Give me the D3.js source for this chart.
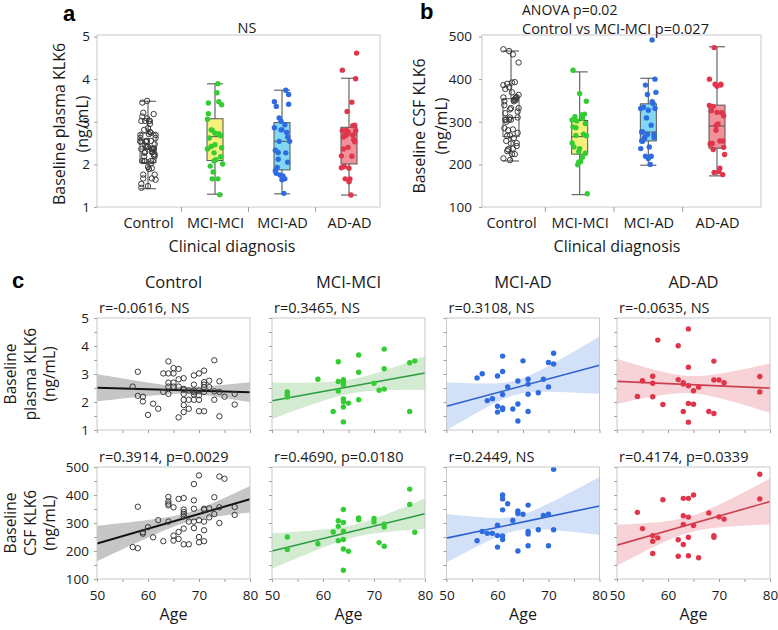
<!DOCTYPE html>
<html>
<head>
<meta charset="utf-8">
<script src="https://cdn.jsdelivr.net/npm/d3@7"></script>
<style>
	body { margin: 0; background: #fff; }
	text { font-family: "Open Sans", sans-serif; fill: #1a1a1a; }
</style>
</head>
<body>
<svg id="svg"></svg>
<script>

// ---------------------------------------------------------------- data --- //

const groups = ["Control", "MCI-MCI", "MCI-AD", "AD-AD"];

// [age, plasma KLK6 ng/mL]
const controlPlasma = [[57,2.55],[58,3.08],[58,2.22],[59,2.19],[59,2.02],[60,1.54],[61,1.94],[62,1.76],[63,3.02],[63,2.36],[64,3.45],[64,3.02],[64,2.69],[64,2.55],[64,2.29],[65,3.21],[65,3.02],[65,2.69],[65,2.55],[66,3.18],[66,2.81],[66,2.55],[66,1.45],[67,2.85],[67,2.47],[67,2.44],[67,2.29],[67,2.08],[67,1.89],[67,1.64],[68,2.41],[68,2.08],[68,1.76],[69,2.95],[69,2.62],[69,2.41],[69,2.35],[69,2.27],[69,2.08],[70,3.02],[70,2.41],[70,2.24],[70,2.08],[70,1.67],[71,3.12],[71,2.71],[71,2.62],[71,2.53],[71,2.36],[71,1.67],[72,2.76],[72,2.53],[73,3.49],[73,2.38],[73,2.08],[74,2.74],[74,2.36],[74,1.49],[75,2.19],[77,2.29],[77,1.91]];
const mciMciPlasma = [[53,2.36],[53,2.27],[53,2.18],[59,2.81],[62,1.66],[63,3.44],[63,2.73],[63,2.39],[64,2.80],[64,2.72],[64,2.62],[64,2.11],[64,2.01],[64,1.82],[64,1.29],[65,1.96],[67,3.68],[67,3.06],[67,2.08],[70,2.67],[71,2.42],[72,3.89],[72,3.19],[72,2.46],[77,3.40],[77,1.66],[78,3.47]];
const mciAdPlasma = [[56,2.86],[57,3.01],[58,2.05],[59,2.12],[60,2.93],[60,1.85],[60,1.64],[61,3.64],[61,3.09],[61,2.27],[61,1.79],[61,1.73],[62,2.54],[63,1.75],[64,2.75],[64,1.93],[64,1.32],[65,3.47],[66,2.81],[66,2.64],[66,2.28],[66,1.66],[68,2.33],[69,2.81],[70,3.41],[70,2.54],[71,3.74],[71,3.36]];
const adAdPlasma = [[54,2.20],[55,2.76],[57,2.92],[57,2.67],[57,2.19],[58,4.21],[59,1.91],[62,4.01],[62,2.80],[63,2.69],[63,2.64],[63,1.66],[64,4.61],[64,3.24],[64,2.58],[64,1.95],[64,1.28],[65,1.92],[65,2.40],[66,2.53],[68,1.66],[69,3.46],[69,2.79],[69,1.59],[70,2.79],[71,2.69],[78,2.91],[78,2.36]];

// [age, CSF KLK6 ng/mL]
const controlCsf = [[57,214],[58,210],[58,358],[59,267],[59,262],[60,285],[61,249],[62,310],[63,235],[64,393],[64,377],[64,369],[64,363],[64,305],[65,356],[65,255],[65,237],[66,386],[66,268],[66,243],[67,389],[67,348],[67,339],[67,332],[67,324],[67,280],[67,224],[68,305],[68,224],[69,439],[69,381],[69,351],[69,305],[69,282],[70,470],[70,310],[70,250],[70,231],[71,351],[71,348],[71,305],[71,274],[71,235],[72,352],[72,320],[73,392],[73,332],[74,466],[74,356],[74,300],[75,458],[77,357],[77,329]];
const mciMciCsf = [[53,250],[53,205],[59,226],[62,268],[63,308],[63,288],[63,237],[64,348],[64,302],[64,271],[64,241],[64,207],[64,131],[65,199],[67,318],[67,312],[70,316],[70,304],[71,230],[72,296],[72,286],[72,217],[77,421],[77,366],[78,267]];
const mciAdCsf = [[56,237],[57,270],[58,263],[59,263],[60,292],[60,255],[60,214],[61,400],[61,386],[61,347],[61,254],[61,241],[62,369],[63,309],[64,343],[64,334],[64,200],[65,331],[66,364],[66,270],[66,261],[66,219],[68,276],[69,327],[70,331],[70,219],[71,492],[71,276]];
const adAdCsf = [[54,338],[55,280],[57,255],[57,235],[57,191],[58,247],[59,383],[62,240],[62,181],[63,388],[63,326],[63,295],[63,223],[64,388],[64,321],[64,249],[64,183],[65,400],[65,291],[66,176],[68,336],[69,255],[69,249],[70,322],[71,314],[78,474],[78,386]];

// box stats: [lower whisker, q1, median, q3, upper whisker]
const plasmaBox = [[1.43,2.04,2.36,2.73,3.48],[1.30,2.09,2.65,3.07,3.89],[1.31,1.87,2.54,2.98,3.74],[1.28,2.01,2.69,2.87,4.02]];
const csfBox = [[208,265,310,354,466],[129,224,265,303,417],[198,255,276,342,402],[173,238,290,339,476]];

const plasmaStats = ["r=-0.0616, NS", "r=0.3465, NS", "r=0.3108, NS", "r=-0.0635, NS"];
const csfStats = ["r=0.3914, p=0.0029", "r=0.4690, p=0.0180", "r=0.2449, NS", "r=0.4174, p=0.0339"];

const plasmaTicks = [1, 2, 3, 4, 5];
const csfTicks = [100, 200, 300, 400, 500];
const ageTicks = [50, 60, 70, 80];

const plasmaData = [controlPlasma, mciMciPlasma, mciAdPlasma, adAdPlasma];
const csfData = [controlCsf, mciMciCsf, mciAdCsf, adAdCsf];

// -------------------------------------------------------------- styles --- //

const dotColor  = ["#333333", "#33cc33", "#2f6be0", "#e0364b"],
	lineColor = ["#111111", "#2a9a40", "#2d62cc", "#c9414e"],
	bandColor = ["#c6c6c6", "#d3ebd0", "#d2e0f8", "#f7d2d6"],
	boxFill   = ["#ffffff", "#f6f07c", "#80d8f4", "#f2909c"],
	frameColor = "#c8c8c8",
	tickColor = "#a0a0a0";

const svg = d3.select("svg#svg")
	.attr("width", 778)
	.attr("height", 630);

const defs = svg.append("defs");
let clipId = 0;

function dot(sel, gi, x, y) {
	sel.attr("cx", x).attr("cy", y).attr("r", 2.7);
	if (gi === 0) sel.attr("fill", "none").attr("stroke", "#3a3a3a").attr("stroke-width", 1);
	else sel.attr("fill", dotColor[gi]);
}

function styleAxis(g, size) {
	g.select(".domain").remove();
	g.selectAll(".tick line").attr("stroke", tickColor);
	g.selectAll(".tick text").attr("font-size", size).attr("fill", "#222");
}

// --------------------------------------------------------- box panels --- //

function boxPanel(o) {

	const g = svg.append("g");

	const y = d3.scaleLinear().domain(o.domain).range([o.bottom, o.top + 1.5]);
	const x = d3.scalePoint().domain(groups).range(o.cx);

	g.append("rect")
		.attr("x", o.left).attr("y", o.top)
		.attr("width", o.right - o.left).attr("height", o.bottom - o.top)
		.attr("fill", "none").attr("stroke", frameColor);

	g.append("g")
		.attr("transform", `translate(${o.left},0)`)
		.call(d3.axisLeft(y).tickValues(o.ticks).tickFormat(d3.format("d")).tickSize(3).tickPadding(o.pad))
		.call(a => styleAxis(a, 13.5));

	g.append("g")
		.attr("transform", `translate(0,${o.bottom})`)
		.call(d3.axisBottom(x).tickSize(0).tickPadding(11))
		.call(a => styleAxis(a, 14.5));

	g.selectAll("line.sep")
		.data(groups.slice(1))
		.enter()
		.append("line")
		.attr("x1", (d, i) => (x(d) + x(groups[i])) / 2)
		.attr("x2", (d, i) => (x(d) + x(groups[i])) / 2)
		.attr("y1", o.bottom).attr("y2", o.bottom + 5)
		.attr("stroke", tickColor);

	const bw = 16;
	groups.forEach((grp, gi) => {
		const s = o.box[gi], cx = x(grp);
		g.append("line")
			.attr("x1", cx).attr("x2", cx)
			.attr("y1", y(s[0])).attr("y2", y(s[4]))
			.attr("stroke", "#666").attr("stroke-width", 1.2);
		[s[0], s[4]].forEach(v => g.append("line")
			.attr("x1", cx - bw / 2).attr("x2", cx + bw / 2)
			.attr("y1", y(v)).attr("y2", y(v))
			.attr("stroke", "#666").attr("stroke-width", 1.2));
		g.append("rect")
			.attr("x", cx - bw / 2).attr("width", bw)
			.attr("y", y(s[3])).attr("height", y(s[1]) - y(s[3]))
			.attr("fill", boxFill[gi]).attr("stroke", "#555");
		g.append("line")
			.attr("x1", cx - bw / 2).attr("x2", cx + bw / 2)
			.attr("y1", y(s[2])).attr("y2", y(s[2]))
			.attr("stroke", "#555");

		g.selectAll(null)
			.data(o.data[gi])
			.enter()
			.append("circle")
			.each(function(d, i) {
				const jit = ((i * 7) % 17 - 8) * 0.95;
				dot(d3.select(this), gi, cx + jit, y(d[1]));
			});
	});

	g.append("text")
		.attr("transform", `translate(${o.titleX[0]},${o.midY}) rotate(-90)`)
		.attr("text-anchor", "middle").attr("font-size", 16)
		.text(o.title);
	g.append("text")
		.attr("transform", `translate(${o.titleX[1]},${o.midY}) rotate(-90)`)
		.attr("text-anchor", "middle").attr("font-size", 16)
		.text("(ng/mL)");
	g.append("text")
		.attr("x", o.xTitleX).attr("y", 252)
		.attr("text-anchor", "middle").attr("font-size", 16)
		.text("Clinical diagnosis");
}

boxPanel({
	left: 97, right: 380, top: 35, bottom: 207,
	domain: [1, 5], ticks: plasmaTicks, pad: 4,
	cx: [148, 349], box: plasmaBox, data: plasmaData,
	title: "Baseline plasma KLK6", titleX: [65, 88], midY: 124, xTitleX: 232
});

boxPanel({
	left: 482, right: 761, top: 35, bottom: 207,
	domain: [100, 500], ticks: csfTicks, pad: 7,
	cx: [511, 717], box: csfBox, data: csfData,
	title: "Baseline CSF KLK6", titleX: [425, 447], midY: 126, xTitleX: 617
});

svg.append("text").attr("x", 247).attr("y", 33)
	.attr("text-anchor", "middle").attr("font-size", 14.5).text("NS");
svg.append("text").attr("x", 522).attr("y", 15)
	.attr("font-size", 14).text("ANOVA p=0.02");
svg.append("text").attr("x", 522).attr("y", 34)
	.attr("font-size", 14.5).text("Control vs MCI-MCI p=0.027");

// ------------------------------------------------------ scatter panels --- //

function fit(pts) {
	const n = pts.length,
		mx = d3.mean(pts, d => d[0]),
		my = d3.mean(pts, d => d[1]);
	let sxx = 0, sxy = 0;
	pts.forEach(d => { sxx += (d[0] - mx) ** 2; sxy += (d[0] - mx) * (d[1] - my); });
	const b = sxy / sxx, a = my - b * mx;
	let sse = 0;
	pts.forEach(d => { sse += (d[1] - a - b * d[0]) ** 2; });
	const s = Math.sqrt(sse / (n - 2)),
		t = 1.96 + 2.5 / (n - 2);
	return {
		f: x => a + b * x,
		ci: x => t * s * Math.sqrt(1 / n + (x - mx) ** 2 / sxx)
	};
}

const colX = [97, 272, 446.5, 617], colW = 153;

function scatterPanel(ci, o) {

	const x0 = colX[ci], x1 = x0 + colW;
	const g = svg.append("g");
	const x = d3.scaleLinear().domain([50, 80]).range([x0, x1]);
	const y = d3.scaleLinear().domain(o.domain).range([o.bottom, o.top]);
	const pts = o.data[ci];
	const m = fit(pts);

	const id = "clip" + (clipId++);
	defs.append("clipPath").attr("id", id)
		.append("rect")
		.attr("x", x0).attr("y", o.top).attr("width", colW).attr("height", o.bottom - o.top);

	const plot = g.append("g").attr("clip-path", `url(#${id})`);
	const xs = d3.range(50, 80.01, 0.5);

	plot.append("path")
		.datum(xs)
		.attr("d", d3.area()
			.x(d => x(d))
			.y0(d => y(m.f(d) - m.ci(d)))
			.y1(d => y(m.f(d) + m.ci(d))))
		.attr("fill", bandColor[ci]);

	plot.append("line")
		.attr("x1", x(50)).attr("x2", x(80))
		.attr("y1", y(m.f(50))).attr("y2", y(m.f(80)))
		.attr("stroke", lineColor[ci])
		.attr("stroke-width", ci === 0 ? 2 : 1.6);

	plot.selectAll("circle")
		.data(pts)
		.enter()
		.append("circle")
		.each(function(d) { dot(d3.select(this), ci, x(d[0]), y(d[1])); });

	g.append("rect")
		.attr("x", x0).attr("y", o.top)
		.attr("width", colW).attr("height", o.bottom - o.top)
		.attr("fill", "none").attr("stroke", frameColor);

	const minorY = d3.range(o.domain[0], o.domain[1] + 1e-9, (o.domain[1] - o.domain[0]) / 8);
	const yAxis = d3.axisLeft(y)
		.tickValues(minorY)
		.tickSize(3).tickPadding(5)
		.tickFormat(d => (ci === 0 && o.ticks.includes(d)) ? d : "");
	g.append("g")
		.attr("transform", `translate(${x0},0)`)
		.call(yAxis)
		.call(a => styleAxis(a, 13.5));

	const xAxis = d3.axisBottom(x)
		.tickValues(d3.range(50, 81, 5))
		.tickSize(3).tickPadding(8)
		.tickFormat(d => (o.showX && ageTicks.includes(d)) ? d : "");
	g.append("g")
		.attr("transform", `translate(0,${o.bottom})`)
		.call(xAxis)
		.call(a => styleAxis(a, 13.5));

	g.append("text")
		.attr("x", x0 + 2).attr("y", o.top - 5)
		.attr("font-size", 14.5)
		.text(o.stats[ci]);

	if (o.showX) {
		g.append("text")
			.attr("x", (x0 + x1) / 2).attr("y", 620)
			.attr("text-anchor", "middle").attr("font-size", 16)
			.text("Age");
	}
}

groups.forEach((grp, ci) => {
	scatterPanel(ci, {
		domain: [1, 5], ticks: plasmaTicks, top: 318, bottom: 430,
		data: plasmaData, stats: plasmaStats, showX: false
	});
	scatterPanel(ci, {
		domain: [100, 500], ticks: csfTicks, top: 467, bottom: 579,
		data: csfData, stats: csfStats, showX: true
	});
	svg.append("text")
		.attr("x", colX[ci] + colW / 2).attr("y", 288)
		.attr("text-anchor", "middle").attr("font-size", 16.5)
		.text(grp);
});

[["Baseline", "plasma KLK6", "(ng/mL)", 374], ["Baseline", "CSF KLK6", "(ng/mL)", 523]].forEach(r => {
	[16, 36, 55].forEach((bx, i) => {
		svg.append("text")
			.attr("transform", `translate(${bx},${r[3]}) rotate(-90)`)
			.attr("text-anchor", "middle").attr("font-size", 15.5)
			.text(r[i]);
	});
});

// panel letters
[["a", 63, 21], ["b", 420, 19], ["c", 12, 288]].forEach(l => {
	svg.append("text")
		.attr("x", l[1]).attr("y", l[2])
		.attr("font-weight", "bold").attr("font-size", 22)
		.style("font-family", "'Liberation Sans', Arial, sans-serif")
		.style("fill", "#000")
		.text(l[0]);
});

</script>
</body>
</html>
